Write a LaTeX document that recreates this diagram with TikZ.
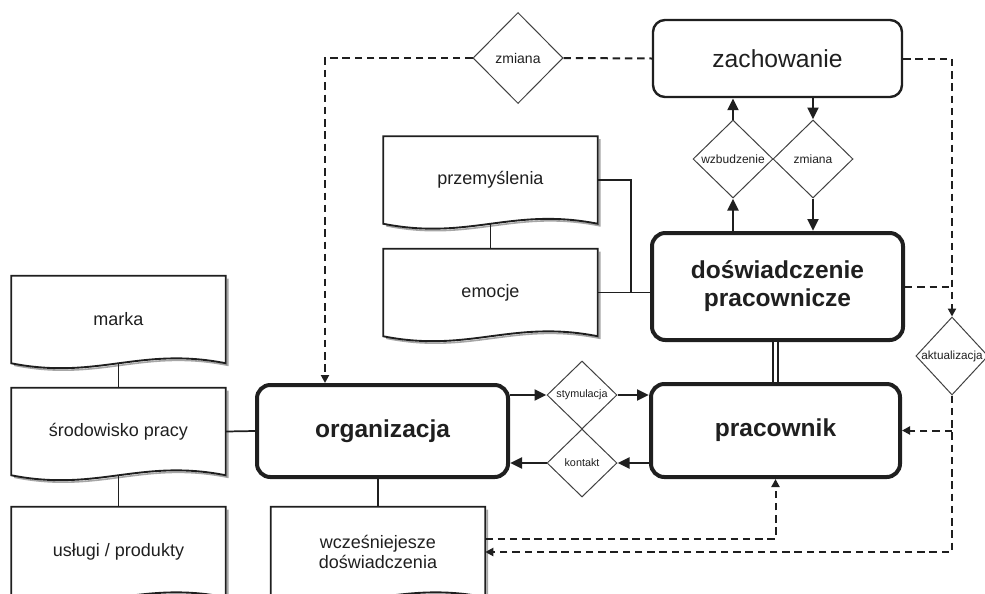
\documentclass[tikz,border=0pt]{standalone}
\usepackage{fontspec}
\setmainfont{Liberation Sans}
\usetikzlibrary{shapes.geometric,arrows.meta,calc}
\definecolor{ink}{HTML}{1F1F1F}

% outline of a document box (wavy bottom), with a light shade
\newcommand{\docoutline}[1]{%
  \draw[docshade] ($(#1.north east)+(2,3)$) -- ($(#1.south east)+(2,2)$)
    .. controls ($(#1.south west)!0.6!(#1.south east)+(2,-15)$) and ($(#1.south west)!0.4!(#1.south east)+(2,19)$) .. ($(#1.south west)+(3,2)$);
  \draw[docline] (#1.south west) -- (#1.north west) -- (#1.north east) -- (#1.south east)
    .. controls ($(#1.south west)!0.6!(#1.south east)+(0,-17)$) and ($(#1.south west)!0.4!(#1.south east)+(0,17)$) .. (#1.south west) -- cycle;}

\begin{document}
\begin{tikzpicture}[x=0.75pt,y=-0.75pt,>={Triangle[length=9pt,width=8pt]},
  mainbox/.style={draw=ink, line width=3pt, rounded corners=10pt, align=center, text=ink, font=\fontsize{18.4}{21}\selectfont\bfseries},
  softbox/.style={draw=ink, line width=1.8pt, rounded corners=9pt, text=ink, font=\fontsize{18.5}{21}\selectfont},
  docbox/.style={minimum width=160.5pt, minimum height=65.25pt, align=center, text=ink, font=\fontsize{13.5}{15}\selectfont},
  docline/.style={draw=ink, line width=1.4pt},
  docshade/.style={draw=black!35, line width=1.2pt},
  choice/.style={diamond, draw=ink!85, line width=0.75pt, inner sep=0pt, text=ink},
  flow/.style={draw=ink, line width=2.2pt, ->},
  dashflow/.style={draw=ink, line width=1.5pt, dash pattern=on 5.6pt off 3.6pt, >={Triangle[length=6pt,width=6pt]}},
  link/.style={draw=ink, line width=1.3pt}]
\useasboundingbox (0,0) rectangle (985,593);

\node[softbox, minimum width=186.75pt, minimum height=57.75pt] (zach) at (777.5,58.5) {zachowanie};
\node[choice, minimum width=67.5pt, minimum height=68.25pt, font=\fontsize{10.5}{12}\selectfont] (zm1) at (518,58) {zmiana};
\node[choice, minimum width=60pt, minimum height=58.5pt, font=\fontsize{9}{10}\selectfont] (wzb) at (733,159) {wzbudzenie};
\node[choice, minimum width=60pt, minimum height=58.5pt, font=\fontsize{9}{10}\selectfont] (zm2) at (813,159) {zmiana};
\node[mainbox, minimum width=188.25pt, minimum height=80.25pt] (dosw) at (777.5,286.5) {doświadczenie\\pracownicze};
\node[mainbox, minimum width=186.75pt, minimum height=69.75pt] (prac) at (775.5,430.5) {pracownik};
\node[mainbox, minimum width=188.25pt, minimum height=69pt] (org) at (382.5,431) {organizacja};
\node[choice, minimum width=52.5pt, minimum height=51pt, font=\fontsize{8.1}{9}\selectfont] (stym) at (582,395) {stymulacja};
\node[choice, minimum width=52.5pt, minimum height=51pt, font=\fontsize{8.1}{9}\selectfont] (kont) at (582,463) {kontakt};
\node[choice, minimum width=54pt, minimum height=58.5pt, font=\fontsize{8.8}{10}\selectfont] (akt) at (952,356) {aktualizacja};

\node[docbox] (przem) at (490.5,180) {przemyślenia};
\node[docbox] (emoc) at (490.5,292.5) {emocje};
\node[docbox] (marka) at (118.5,319.5) {marka};
\node[docbox] (srod) at (118.5,431.5) {środowisko pracy};
\node[docbox, minimum height=67.5pt] (uslu) at (118.5,552) {usługi / produkty};
\node[docbox, minimum height=67.5pt] (wcze) at (378,552) {wcześniejesze\\doświadczenia};
\docoutline{przem}
\docoutline{emoc}
\docoutline{marka}
\docoutline{srod}
\docoutline{uslu}
\docoutline{wcze}
\coordinate (junc) at (631,292.5);

% solid connectors
\draw[flow] (org.east |- stym.west) -- (stym.west);
\draw[flow] (stym.east) -- (prac.west |- stym.east);
\draw[flow] (prac.west |- kont.east) -- (kont.east);
\draw[flow] (kont.west) -- (org.east |- kont.west);
\draw[flow] (wzb.south |- dosw.north) -- (wzb.south);
\draw[flow] (wzb.north) -- (wzb.north |- zach.south);
\draw[flow] (zm2.north |- zach.south) -- (zm2.north);
\draw[flow] (zm2.south) -- (zm2.south |- dosw.north);
\draw[draw=ink, line width=1.1pt, double, double distance=2.4pt] (prac.north |- dosw.south) -- (prac.north);
\draw[link] (marka.south) -- (srod.north);
\draw[link] (srod.south) -- (uslu.north);
\draw[link] (srod.east) -- (org.west);
\draw[link] (przem.south) -- (emoc.north);
\draw[link] (emoc.east) -- (dosw.west |- emoc.east);
\draw[link] (przem.east) -| (junc);
\draw[link] (wcze.north |- org.south) -- (wcze.north);

% dashed connectors
\draw[dashflow, ->] (zm1.west) -| ($(org.north west)+(70,0)$);
\draw[dashflow] (zm1.east) -- (zach.west);
\draw[dashflow, ->] (zach.east) -| (akt.north);
\draw[dashflow] (dosw.east) -- (dosw.east -| akt.north);
\draw[dashflow, ->] (akt.south) |- (wcze.east);
\draw[dashflow, ->] (akt.south |- prac.east) -- (prac.east);
\draw[dashflow, ->] ($(wcze.east)+(0,-13)$) -| (prac.south);
\end{tikzpicture}
\end{document}
